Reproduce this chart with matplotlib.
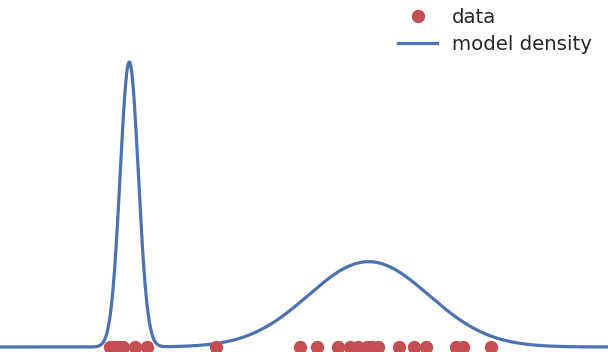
import numpy as np
import matplotlib
matplotlib.use("Agg")
import matplotlib.pyplot as plt

# data points (x positions, drawn at y=0)
data_x = [-0.40, -0.34, -0.27, -0.21, -0.13, 0.13, 0.38, 1.82,
          3.56, 3.93, 4.35, 4.62, 4.77, 4.96, 5.06, 5.19, 5.63, 5.94, 6.19,
          6.82, 6.97, 7.55]

# mixture model parameters
weights = [0.335, 0.665]
means = [0.0, 5.0]
sigmas = [0.19, 1.26]

x_min, x_max = -2.7, 10.0

blue = "#4C72B0"
red = "#C44E52"

xs = np.linspace(x_min, x_max, 1000)
dens = np.zeros_like(xs)
for w, m, s in zip(weights, means, sigmas):
    dens += w * np.exp(-0.5 * ((xs - m) / s) ** 2) / (s * np.sqrt(2 * np.pi))

fig = plt.figure(figsize=(6.08, 3.52), dpi=100)
ax = fig.add_axes([0, 0, 1, 1])
ax.axis("off")

pk = dens.max()
ppu = 285.0 / pk
ax.set_ylim(-5.0 / ppu, 347.0 / ppu)
ax.set_xlim(x_min, x_max)

ax.plot(data_x, np.zeros(len(data_x)), "o", color=red, ms=8.6, label="data",
        clip_on=False, zorder=3)
ax.plot(xs, dens, "-", color=blue, lw=2.3, label="model density")

leg = ax.legend(loc="upper right", frameon=False, fontsize=14.2,
                bbox_to_anchor=(1.0033, 1.0285), handlelength=2.0,
                handletextpad=0.75, labelspacing=0.42)
for t in leg.get_texts():
    t.set_color("#262626")

fig.savefig("out.png", dpi=100)
